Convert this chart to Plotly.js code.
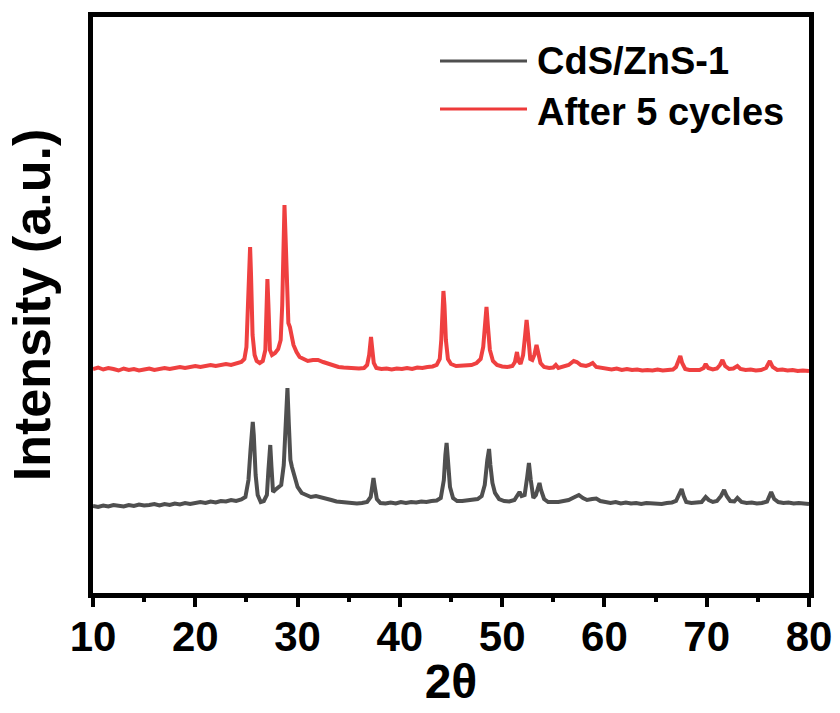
<!DOCTYPE html>
<html>
<head>
<meta charset="utf-8">
<script src="https://cdn.plot.ly/plotly-3.0.1.min.js"></script>
<style>html,body{margin:0;padding:0;background:#fff;}#chart{width:840px;height:713px;}</style>
</head>
<body>
<div id="chart"></div>
<script>
// Series names
const seriesNames = ["CdS/ZnS-1", "After 5 cycles"];

// CdS/ZnS-1 (gray) — 2θ and intensity (a.u.)
const grayX = [10,10.5,11,11.5,12,12.5,13,13.5,14,14.5,15,15.5,16,16.5,17,17.5,18,18.5,19,19.5,20,20.5,21,21.5,22,22.5,23,23.5,24,24.5,24.9,25.2,25.4,25.55,25.62,25.72,25.9,26.1,26.4,26.7,27.0,27.15,27.33,27.45,27.6,27.8,28.1,28.4,28.65,28.85,29.01,29.15,29.3,29.45,29.7,30.0,30.4,30.8,31.3,31.8,32.3,32.8,33.3,33.8,34.3,34.8,35.3,35.8,36.3,36.8,37.15,37.3,37.42,37.55,37.75,38.1,38.6,39.1,39.6,40.1,40.6,41.1,41.6,42.1,42.6,43.1,43.6,44.0,44.3,44.45,44.57,44.7,44.9,45.2,45.6,46.1,46.6,47.1,47.6,48.0,48.3,48.55,48.72,48.85,49.05,49.3,49.7,50.2,50.7,51.2,51.5,51.7,51.9,52.2,52.45,52.62,52.8,53.05,53.3,53.55,53.65,53.8,54.1,54.5,55.0,55.5,56.0,56.5,57.0,57.5,57.9,58.3,58.8,59.2,59.6,60.1,60.6,61.1,61.6,62.1,62.6,63.1,63.6,64.1,64.6,65.1,65.6,66.1,66.6,67.0,67.3,67.55,67.75,68.0,68.5,69.0,69.5,69.9,70.2,70.6,71.0,71.4,71.7,71.95,72.3,72.7,73.0,73.4,73.9,74.4,74.9,75.4,75.9,76.3,76.6,77.0,77.5,78.0,78.5,79.0,79.5,80.0];
const grayY = [89,88,89.5,88.5,90,89,88.5,90,89,90.5,89.5,90,91,89.5,91,90,91.5,90.5,92,91,92,93,92,93.5,92.5,94,93.5,95,94,95.5,98,115,145,168,173,160,120,100,93,94,100,125,150,128,103,105,107,110,130,180,207,170,135,128,118,108,102,100,98,99,98,96,95,93.5,93,92,92.5,91.5,92,93,98,110,117,108,96,92,91.5,92.5,91.5,93,92,93,92.5,93.5,93,94,94.5,97,115,140,152,135,108,97,94,94,94.5,95,96,99,110,135,146,130,112,102,96,94,93.5,95,99,103,99,100,118,132,115,97,100,110,112,105,96,93,92.5,93,94,95,97.5,100,97,95,96,96.5,94,92.5,92,93,91.5,92.5,91.5,92,91,92,91.5,92,91,92,92.5,94,100,106,99,93,92,92.5,93,98,95,93,94,99,105,99,94,93.5,97,93,92,92.5,91.5,92,93.5,103,96,93,92,92.5,91.5,92,91,91];

// After 5 cycles (red) — 2θ and intensity (a.u.)
const redX = [10,10.5,11,11.5,12,12.5,13,13.5,14,14.5,15,15.5,16,16.5,17,17.5,18,18.5,19,19.5,20,20.5,21,21.5,22,22.5,23,23.5,24,24.5,24.8,25.0,25.15,25.3,25.36,25.45,25.6,25.8,26.0,26.3,26.6,26.85,26.95,27.05,27.15,27.3,27.5,27.8,28.1,28.35,28.5,28.62,28.72,28.82,28.95,29.1,29.25,29.4,29.6,29.9,30.2,30.6,31.0,31.5,32.0,32.5,33.0,33.5,34.0,34.5,35.0,35.5,36.0,36.5,36.8,37.0,37.1,37.18,37.28,37.45,37.7,38.2,38.7,39.2,39.7,40.2,40.7,41.2,41.7,42.2,42.7,43.2,43.6,43.9,44.05,44.15,44.26,44.36,44.5,44.7,45.0,45.5,46.0,46.5,47.0,47.5,47.9,48.15,48.3,48.47,48.6,48.8,49.1,49.5,50.0,50.5,51.0,51.25,51.45,51.6,51.8,52.05,52.25,52.39,52.52,52.75,52.95,53.15,53.36,53.5,53.75,54.1,54.6,55.0,55.25,55.5,56.0,56.5,57.0,57.3,57.7,58.2,58.5,58.85,59.2,59.7,60.2,60.7,61.2,61.7,62.2,62.7,63.2,63.7,64.2,64.7,65.2,65.7,66.2,66.7,67.0,67.2,67.42,67.6,67.9,68.3,68.8,69.3,69.7,69.9,70.15,70.6,71.0,71.3,71.54,71.8,72.2,72.6,73.0,73.3,73.8,74.3,74.8,75.3,75.8,76.17,76.45,76.9,77.4,77.9,78.4,78.9,79.4,80.0];
const redY = [226,227.5,225.5,227,226,224.5,226.5,225,226,224.5,225.5,226.5,225,226.5,227,226,227.5,228,227,228.5,229,228,229.5,230,229,230.5,231,230,231.5,233,236,248,290,340,348,320,260,240,234,232,234,245,290,316,290,245,240,242,246,255,290,360,390,360,300,272,268,262,250,243,238,236,234,235,235,233,231,229.5,228,227.5,227,226,226.5,227,230,240,252,258,248,232,227,226,226.5,225.5,226.5,226,227,226,227.5,227,228,228.5,230,236,255,290,304,290,255,236,231,229,229,229.5,230,232,236,248,270,288,270,245,234,230,228.5,228,229,233,243,234,231,240,260,275,262,236,235,240,250,243,232,228,227,227.5,230,227,228,230,234,233,230,229,230,232,228,227,226,225.5,226.5,225,226,225,225.5,224.5,225,224.5,225.5,224.5,225,225.5,228,234,239,232,226,225,225.5,225,227,231,227,225.5,226.5,230,235,229,226,226.5,229,226,225,225.5,224.5,225,227,234,228,225,225.5,224.5,225,224,224.5,224];

const xTickVals = [10,20,30,40,50,60,70,80];
const xTickText = ["10","20","30","40","50","60","70","80"];

const grayColor = "#4f4f4f";
const redColor = "#ef4040";

const M = {l:93, r:31, t:17, b:120};
const W = 840, H = 713;
const pTop = M.t, pBot = H - M.b, pLeft = M.l, pRight = W - M.r;
const py = y => (pBot - y) / (pBot - pTop);
const px = x => (x - pLeft) / (pRight - pLeft);

const traces = [
  {x: grayX, y: grayY, name: seriesNames[0], type: "scatter", mode: "lines",
   line: {color: grayColor, width: 4}, showlegend: false},
  {x: redX, y: redY, name: seriesNames[1], type: "scatter", mode: "lines",
   line: {color: redColor, width: 4}, showlegend: false}
];

const boldFont = {family: "Liberation Sans, Arial, sans-serif", color: "#000", weight: "bold"};

const layout = {
  width: W, height: H,
  margin: M,
  paper_bgcolor: "#fff", plot_bgcolor: "#fff",
  showlegend: false,
  xaxis: {
    range: [10, 80],
    tickvals: xTickVals, ticktext: xTickText,
    ticks: "outside", ticklen: 9, tickwidth: 4, tickcolor: "#000",
    ticklabelstandoff: -6,
    minor: {dtick: 5, tick0: 0, ticks: "outside", ticklen: 4, tickwidth: 4, tickcolor: "#000"},
    showline: true, linewidth: 5, linecolor: "#000", mirror: true,
    showgrid: false, zeroline: false,
    tickfont: Object.assign({size: 42}, boldFont),
    title: {text: "2θ", font: Object.assign({size: 48}, boldFont), standoff: 6}
  },
  yaxis: {
    range: [2, 578],
    showticklabels: false, ticks: "",
    showline: true, linewidth: 5, linecolor: "#000", mirror: true,
    showgrid: false, zeroline: false,
    title: {text: "Intensity (a.u.)", font: Object.assign({size: 52}, boldFont), standoff: 22}
  },
  shapes: [
    {type: "line", xref: "paper", yref: "paper", x0: px(440), x1: px(527), y0: py(61), y1: py(61),
     line: {color: grayColor, width: 3}},
    {type: "line", xref: "paper", yref: "paper", x0: px(440), x1: px(527), y0: py(109), y1: py(109),
     line: {color: "#ee3a3a", width: 3}}
  ],
  annotations: [
    {xref: "paper", yref: "paper", x: px(535), y: py(61), xanchor: "left", yanchor: "middle",
     text: seriesNames[0], showarrow: false, font: Object.assign({size: 38}, boldFont)},
    {xref: "paper", yref: "paper", x: px(535), y: py(112), xanchor: "left", yanchor: "middle",
     text: seriesNames[1], showarrow: false, font: Object.assign({size: 38}, boldFont)}
  ]
};

Plotly.newPlot("chart", traces, layout, {displayModeBar: false, staticPlot: true});
</script>
</body>
</html>
